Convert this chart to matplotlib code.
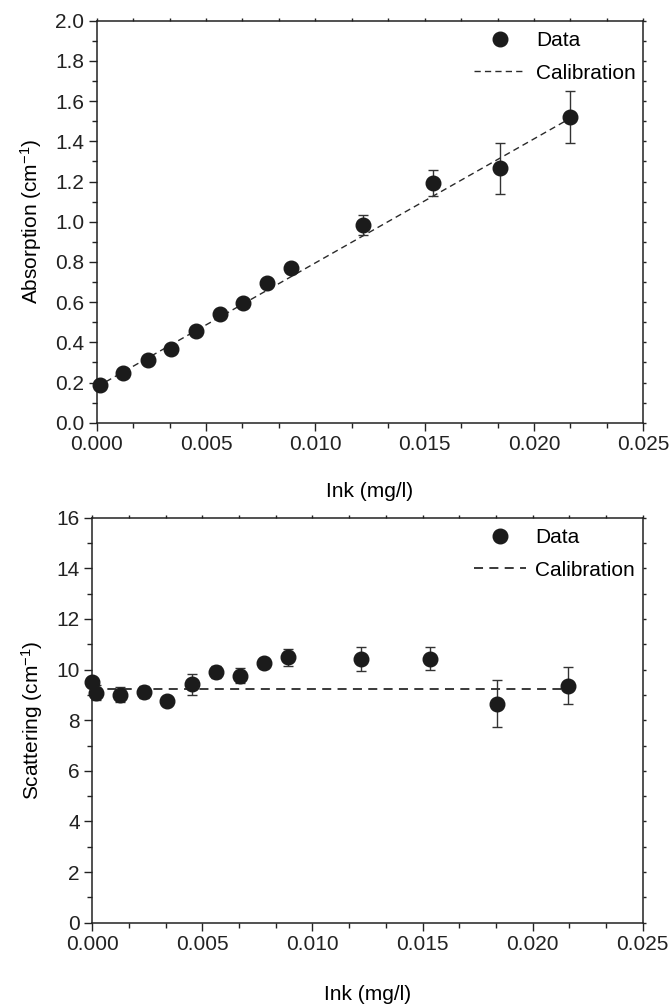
import numpy as np
import matplotlib.pyplot as plt
from matplotlib.ticker import MultipleLocator, AutoMinorLocator

plt.rcParams['font.family'] = ['Liberation Sans', 'DejaVu Sans']
plt.rcParams['mathtext.fontset'] = 'custom'
plt.rcParams['mathtext.rm'] = 'Liberation Sans'
plt.rcParams['mathtext.it'] = 'Liberation Sans'

# absorption panel
ink_abs = [0.00015, 0.00122, 0.00233, 0.0034, 0.00452, 0.00562, 0.0067,
           0.0078, 0.00887, 0.0122, 0.0154, 0.01845, 0.02165]
absorption = [0.188, 0.246, 0.312, 0.367, 0.456, 0.539, 0.594,
              0.697, 0.768, 0.984, 1.191, 1.266, 1.522]
abs_err = [0.01, 0.01, 0.01, 0.01, 0.01, 0.01, 0.01,
           0.015, 0.015, 0.05, 0.065, 0.128, 0.13]
abs_cal_x = [0.0, 0.0216]
abs_cal_y = [0.178, 1.511]

# scattering panel
ink_sca = [0.0, 0.00017, 0.00124, 0.00233, 0.00341, 0.00452, 0.0056, 0.0067,
           0.0078, 0.00888, 0.01219, 0.01535, 0.0184, 0.0216]
scattering = [9.49, 9.09, 9.00, 9.11, 8.75, 9.42, 9.90, 9.76,
              10.26, 10.49, 10.42, 10.43, 8.65, 9.37]
sca_err = [0.1, 0.3, 0.3, 0.25, 0.1, 0.42, 0.25, 0.3,
           0.2, 0.33, 0.46, 0.45, 0.93, 0.73]
sca_cal_x = [0.0, 0.0216]
sca_cal_y = [9.25, 9.25]

fs = 15
dark = '#1b1b1b'

fig = plt.figure(figsize=(6.72, 10.06), dpi=100)
ax1 = fig.add_axes([0.1439, 0.5798, 0.8134, 0.3996])
ax2 = fig.add_axes([0.1374, 0.0828, 0.8190, 0.4026])


def style(ax, ymax, ymajor, ylabel, xpad):
    ax.set_xlim(0, 0.025)
    ax.set_ylim(0, ymax)
    ax.xaxis.set_major_locator(MultipleLocator(0.005))
    ax.xaxis.set_minor_locator(AutoMinorLocator(3))
    ax.yaxis.set_major_locator(MultipleLocator(ymajor))
    ax.yaxis.set_minor_locator(AutoMinorLocator(2))
    ax.tick_params(which='both', direction='out', labelsize=fs,
                   colors='#222222', width=1.0, pad=3)
    ax.tick_params(which='major', length=6)
    ax.tick_params(which='minor', length=3.5)
    ax.tick_params(which='both', top=True, right=True)
    for s in ax.spines.values():
        s.set_linewidth(1.1)
        s.set_color('#222222')
    ax.set_xlabel('Ink (mg/l)', fontsize=fs, labelpad=xpad)
    ax.set_ylabel(ylabel, fontsize=fs, labelpad=8)
    # top and right ticks are barely visible in the original
    for t in ax.xaxis.get_major_ticks() + ax.xaxis.get_minor_ticks():
        t.tick2line.set_markersize(2)
    for t in ax.yaxis.get_major_ticks() + ax.yaxis.get_minor_ticks():
        t.tick2line.set_markersize(2)


def draw(ax, x, y, err, cx, cy, lw, dashes):
    ax.errorbar(x, y, yerr=err, fmt='none', ecolor='#333333',
                elinewidth=1.0, capsize=3.5, capthick=1.0,
                clip_on=False, zorder=3)
    ax.plot(x, y, 'o', color=dark, ms=10.5, label='Data',
            clip_on=False, zorder=4)
    ax.plot(cx, cy, color='#2a2a2a', lw=lw, dashes=dashes,
            label='Calibration', zorder=2)
    ax.legend(loc='upper right', frameon=False, fontsize=fs,
              handlelength=2.5, handletextpad=0.45, labelspacing=0.65,
              borderaxespad=0.1, bbox_to_anchor=(1.005, 1.0))


style(ax1, 2.0, 0.2, 'Absorption (cm$^{-1}$)', 20)
ax1.xaxis.set_major_formatter(plt.FormatStrFormatter('%.3f'))
ax1.yaxis.set_major_formatter(plt.FormatStrFormatter('%.1f'))
draw(ax1, ink_abs, absorption, abs_err, abs_cal_x, abs_cal_y, 1.0, (4.5, 3))

style(ax2, 16, 2, 'Scattering (cm$^{-1}$)', 22)
ax2.xaxis.set_major_formatter(plt.FormatStrFormatter('%.3f'))
draw(ax2, ink_sca, scattering, sca_err, sca_cal_x, sca_cal_y, 1.3, (5, 3.5))

fig.savefig('out.png', dpi=100)
